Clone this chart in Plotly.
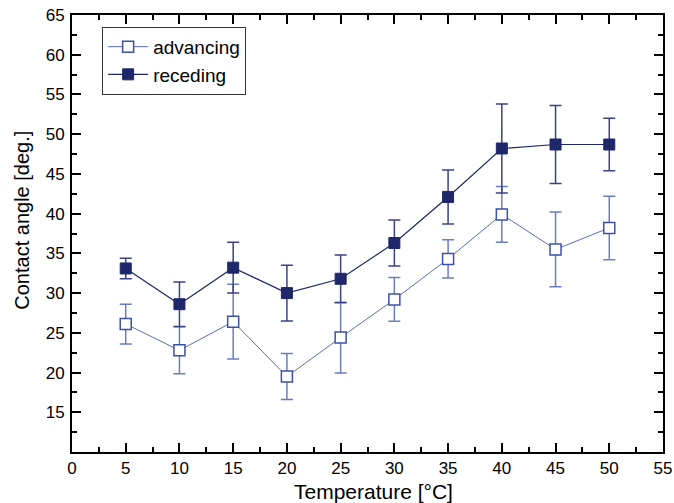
import plotly.graph_objects as go

temperature = [5, 10, 15, 20, 25, 30, 35, 40, 45, 50]

advancing = [26.1, 22.8, 26.4, 19.5, 24.4, 29.2, 34.3, 39.9, 35.5, 38.2]
advancing_err = [2.5, 2.95, 4.7, 2.9, 4.45, 2.75, 2.4, 3.5, 4.7, 4.0]

receding = [33.1, 28.6, 33.2, 30.0, 31.8, 36.3, 42.1, 48.2, 48.7, 48.7]
receding_err = [1.3, 2.8, 3.2, 3.5, 3.0, 2.9, 3.4, 5.6, 4.9, 3.3]

x_ticks = list(range(0, 56, 5))
y_ticks = list(range(15, 66, 5))

adv_col = "#3d50a8"
rec_col = "#1f276b"
font_fam = "Liberation Sans, Arial, sans-serif"

fig = go.Figure()

fig.add_trace(go.Scatter(
    x=temperature, y=advancing, name="advancing",
    mode="lines+markers",
    line=dict(color="#5b6cb8", width=1),
    marker=dict(symbol="square", size=11, color="white",
                line=dict(color=adv_col, width=1.5)),
    error_y=dict(type="data", array=advancing_err, visible=True,
                 color="#6c7cc0", thickness=1.5, width=6),
))

fig.add_trace(go.Scatter(
    x=temperature, y=receding, name="receding",
    mode="lines+markers",
    line=dict(color=rec_col, width=1.2),
    marker=dict(symbol="square", size=11, color=rec_col,
                line=dict(color=rec_col, width=1)),
    error_y=dict(type="data", array=receding_err, visible=True,
                 color="#3a4283", thickness=1.5, width=6),
))

axis_style = dict(
    showline=True, linecolor="black", linewidth=2,
    mirror="allticks", ticks="inside", ticklen=9, tickwidth=1.5,
    tickcolor="black", showgrid=False, zeroline=False, automargin=False,
    ticklabeloverflow="allow",
    tickfont=dict(family=font_fam, size=17, color="black"),
    minor=dict(ticks="inside", ticklen=5, tickcolor="black", dtick=2.5, tick0=0, showgrid=False),
)

fig.update_xaxes(range=[0, 55], tickmode="array", tickvals=x_ticks, **axis_style)
fig.update_yaxes(range=[10, 65], tickmode="array", tickvals=y_ticks, ticklabelstandoff=2, **axis_style)

# axis titles placed as annotations so the plot area stays fixed
fig.add_annotation(text="Temperature [°C]", xref="paper", yref="paper",
                   x=0.51, y=-0.0915, xanchor="center", yanchor="middle",
                   showarrow=False, font=dict(family=font_fam, size=21, color="black"))
fig.add_annotation(text="Contact angle [deg.]", xref="paper", yref="paper",
                   x=-0.085, y=0.531, xanchor="center", yanchor="middle", textangle=-90,
                   showarrow=False, font=dict(family=font_fam, size=20, color="black"))

fig.update_layout(
    width=674, height=503,
    margin=dict(l=72, r=11, t=15, b=51),
    paper_bgcolor="white", plot_bgcolor="white",
    showlegend=True,
    legend=dict(
        x=0.051, y=0.973, xanchor="left", yanchor="top",
        bordercolor="#333333", borderwidth=1, bgcolor="white",
        font=dict(family=font_fam, size=19, color="black"),
        tracegroupgap=0, itemwidth=40,
    ),
)

# drop the default body margin so the figure sits at the page corner
fig.write_html("out.html", config={"displayModeBar": False},
               post_script="document.body.style.margin='0';")
